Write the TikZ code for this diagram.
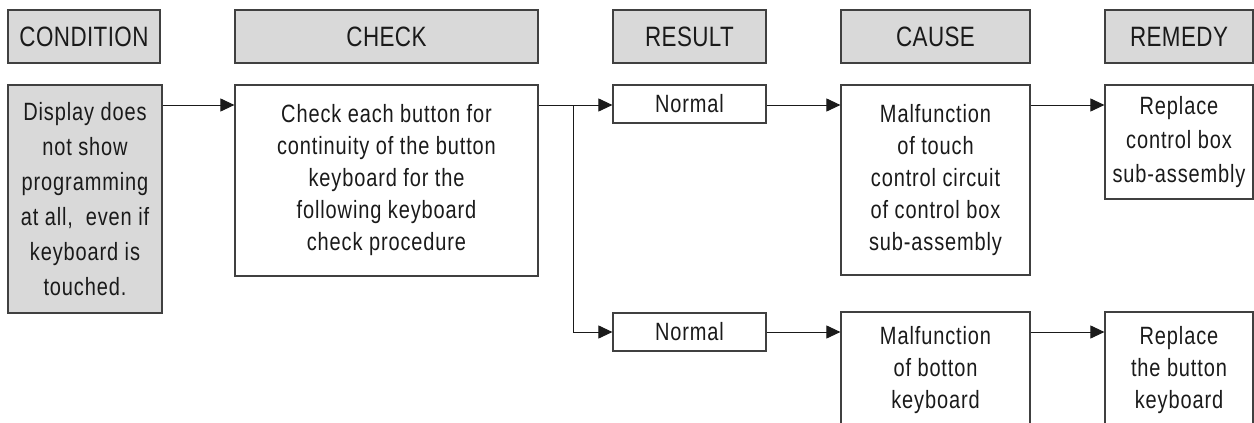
\documentclass[tikz,border=0pt]{standalone}
\usepackage{fontspec}
\setmainfont{Liberation Sans}[FakeStretch=0.8, LetterSpace=1.5]
\newfontfamily\bodyfont{Liberation Sans}[FakeStretch=0.8, LetterSpace=3.5]
\usetikzlibrary{arrows.meta}
\definecolor{boxgray}{HTML}{D9D9D9}
\definecolor{edge}{HTML}{404040}
\definecolor{ink}{HTML}{1A1A1A}
\begin{document}
\begin{tikzpicture}[x=1pt,y=-1pt,
  base/.style={draw=edge, line width=1.2pt, inner sep=0pt, align=center, text=ink},
  head/.style={base, fill=boxgray, minimum height=53pt, font=\fontsize{28}{32}\selectfont},
  cell/.style={base, font=\bodyfont\fontsize{25}{32}\selectfont},
  arr/.style={draw=ink, line width=1pt, -{Triangle[length=14pt,width=13pt]}},
  link/.style={draw=ink, line width=1pt}]
\useasboundingbox (0,0) rectangle (1254,423);
\path[clip] (0,0) rectangle (1254,423);
% headers
\node[head, minimum width=152pt] (hcond)  at (84,36.5)   {CONDITION};
\node[head, minimum width=303pt] (hcheck) at (386.5,36.5) {CHECK};
\node[head, minimum width=153pt] (hres)   at (689.5,36.5) {RESULT};
\node[head, minimum width=189pt] (hcause) at (935.5,36.5) {CAUSE};
\node[head, minimum width=148pt] (hrem)   at (1179,36.5)  {REMEDY};
% body
\node[cell, fill=boxgray, minimum width=154pt, minimum height=228pt,
      font=\bodyfont\fontsize{25}{35}\selectfont] (cond) at (85,199)
  {Display does\\not show\\programming\\at all,~ even if\\keyboard is\\touched.};
\node[cell, minimum width=303pt, minimum height=191pt] (check) at (386.5,180.5)
  {Check each button for\\continuity of the button\\keyboard for the\\following keyboard\\check procedure};
\node[cell, minimum width=153pt, minimum height=38pt] (n1) at (689.5,104) {Normal};
\node[cell, minimum width=153pt, minimum height=38pt] (n2) at (689.5,332) {Normal};
\node[cell, minimum width=189pt, minimum height=190pt] (cause1) at (935.5,180)
  {Malfunction\\of touch\\control circuit\\of control box\\sub-assembly};
\node[cell, minimum width=148pt, minimum height=114pt, font=\bodyfont\fontsize{25}{34}\selectfont] (rem1) at (1179,142)
  {Replace\\control box\\sub-assembly};
\node[cell, minimum width=189pt, minimum height=116pt] (cause2) at (935.5,370)
  {Malfunction\\of botton\\keyboard};
\node[cell, minimum width=148pt, minimum height=116pt] (rem2) at (1179,370)
  {Replace\\the button\\keyboard};
% connectors
\coordinate (br) at (573,105);
\draw[arr] (cond.east |- br) -- (check.west |- br);
\draw[link] (check.east |- br) -- (br);
\draw[arr] (br) -- (n1.west |- br);
\draw[arr] (br) |- (n2.west);
\draw[arr] (n1.east |- br) -- (cause1.west |- br);
\draw[arr] (cause1.east |- br) -- (rem1.west |- br);
\draw[arr] (n2.east) -- (cause2.west |- n2.east);
\draw[arr] (cause2.east |- n2.east) -- (rem2.west |- n2.east);
\end{tikzpicture}
\end{document}
